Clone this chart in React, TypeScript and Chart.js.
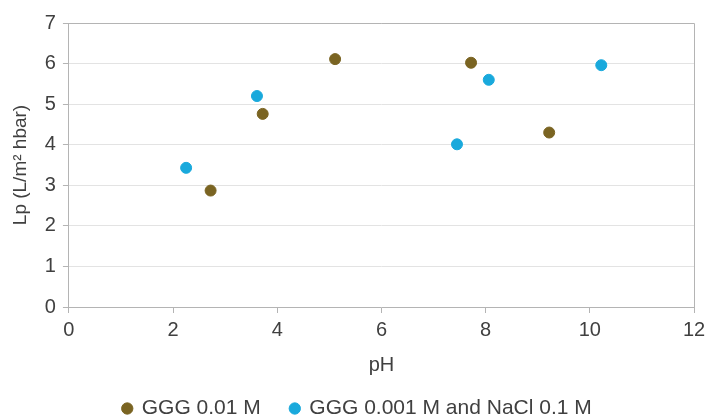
import React, { useEffect, useRef } from "react";
import { Chart, registerables } from "chart.js";

Chart.register(...registerables);

const seriesNames = ["GGG 0.01 M", "GGG 0.001 M and NaCl 0.1 M"];
const seriesColors = ["#7a6422", "#19a9dc"];
const gggPH = [2.72, 3.72, 5.11, 7.72, 9.22];
const gggLp = [2.87, 4.76, 6.11, 6.02, 4.3];
const naclPH = [2.25, 3.61, 7.45, 8.06, 10.22];
const naclLp = [3.43, 5.2, 4.01, 5.6, 5.96];
const xTitle = "pH";
const yTitle = "Lp (L/m² hbar)";

const frame = {
  id: "frame",
  afterDraw(chart: any) {
    const { ctx, chartArea } = chart;
    ctx.save();
    ctx.strokeStyle = "#b4b4b4";
    ctx.lineWidth = 1;
    ctx.beginPath();
    ctx.moveTo(chartArea.left, chartArea.top + 0.5);
    ctx.lineTo(chartArea.right + 0.5, chartArea.top + 0.5);
    ctx.lineTo(chartArea.right + 0.5, chartArea.bottom);
    ctx.stroke();
    ctx.restore();
  },
};

export default function App() {
  const ref = useRef<HTMLCanvasElement | null>(null);
  useEffect(() => {
    document.body.style.margin = "0";
    const font = "'Liberation Sans', Arial, sans-serif";
    const chart = new Chart(ref.current!, {
      type: "scatter",
      data: {
        datasets: [
          {
            label: seriesNames[0],
            data: gggPH.map((x, i) => ({ x, y: gggLp[i] })),
            backgroundColor: seriesColors[0],
            borderColor: seriesColors[0],
            pointRadius: 5.5,
          },
          {
            label: seriesNames[1],
            data: naclPH.map((x, i) => ({ x, y: naclLp[i] })),
            backgroundColor: seriesColors[1],
            borderColor: seriesColors[1],
            pointRadius: 5.5,
          },
        ],
      },
      options: {
        responsive: false,
        animation: false,
        layout: { padding: { left: 9, right: 1, top: 23, bottom: -10 } },
        plugins: {
          tooltip: { enabled: false },
          legend: {
            position: "bottom",
            labels: {
              usePointStyle: true,
              pointStyle: "circle",
              boxWidth: 8,
              boxHeight: 8,
              padding: 30,
              color: "#404040",
              font: { family: font, size: 21 },
            },
          },
        },
        scales: {
          x: {
            type: "linear",
            min: 0,
            max: 12,
            afterFit(scale: any) {
              scale.paddingRight = 13;
            },
            ticks: { stepSize: 2, color: "#404040", font: { family: font, size: 20 }, padding: 5 },
            grid: { drawOnChartArea: false, color: "#b4b4b4", tickLength: 6 },
            border: { color: "#b4b4b4" },
            title: { display: true, text: xTitle, color: "#404040", font: { family: font, size: 20 }, padding: { top: 6, bottom: -9 } },
          },
          y: {
            min: 0,
            max: 7,
            ticks: { stepSize: 1, color: "#404040", font: { family: font, size: 20 }, padding: 7 },
            grid: { color: "#e3e3e3", tickColor: "#b4b4b4", tickLength: 6 },
            border: { color: "#b4b4b4" },
            title: { display: true, text: yTitle, color: "#404040", font: { family: font, size: 19 }, padding: { top: 0, bottom: 6 } },
          },
        },
      },
      plugins: [frame],
    });
    return () => chart.destroy();
  }, []);
  return (
    <div style={{ position: "absolute", left: 0, top: 0, width: 707, height: 419, background: "#fff" }}>
      <canvas ref={ref} width={707} height={419} />
    </div>
  );
}
